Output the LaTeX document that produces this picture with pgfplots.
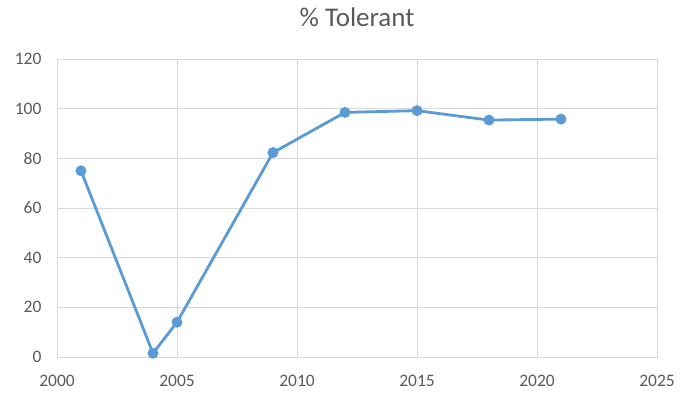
\documentclass[border=0pt]{standalone}
\usepackage{pgfplots}
\pgfplotsset{compat=1.18}
\usepackage{fontspec}
\setmainfont{Carlito}
\definecolor{excelblue}{HTML}{5B9BD5}
\definecolor{txtgray}{HTML}{595959}
\definecolor{gridgray}{HTML}{D9D9D9}
\begin{document}
\begin{tikzpicture}
\useasboundingbox (0,0) rectangle (691pt,394pt);
\begin{axis}[
  at={(57pt,37pt)}, anchor=south west,
  scale only axis, width=600pt, height=298pt,
  xmin=2000, xmax=2025, ymin=0, ymax=120,
  xtick={2000,2005,...,2025}, ytick={0,20,...,120},
  grid=major, major grid style={gridgray, line width=0.9pt},
  axis line style={gridgray, line width=0.9pt},
  tick style={draw=none},
  /pgf/number format/assume math mode=true,
  /pgf/number format/1000 sep={},
  ticklabel style={font=\fontsize{17.5}{19}\selectfont, text=txtgray},
  yticklabel style={xshift=-12pt},
  xticklabel style={anchor=base, yshift=-29pt},
  title={\% Tolerant}, title style={font=\fontsize{27}{30}\selectfont, text=txtgray, at={(0.5,1)}, anchor=base, yshift=27pt},
]
\addplot[excelblue, line width=2.8pt, mark=*, mark size=5.2pt, mark options={fill=excelblue, draw=excelblue, line width=0.5pt}]
  coordinates {(2001,75) (2004,1.5) (2005,14) (2009,82.3) (2012,98.5) (2015,99.2) (2018,95.4) (2021,95.8)};
\end{axis}
\end{tikzpicture}
\end{document}
